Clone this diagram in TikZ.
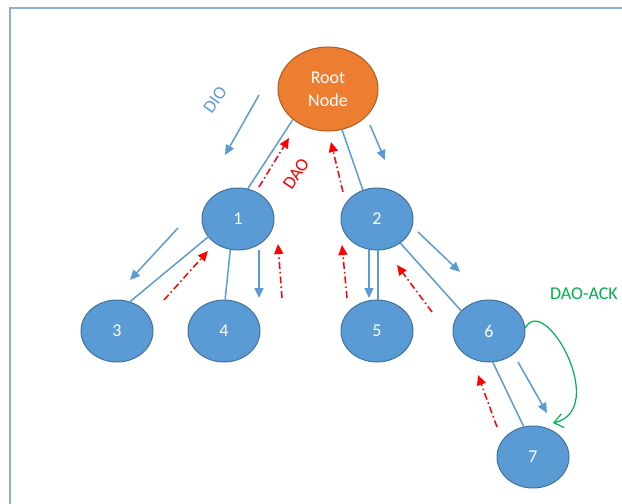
\documentclass[tikz,border=0pt]{standalone}
\usepackage{fontspec}
\setmainfont{Carlito}
\usetikzlibrary{shapes.geometric,arrows.meta}
\definecolor{nodeblue}{HTML}{5B9BD5}
\definecolor{nodeedge}{HTML}{41719C}
\definecolor{rootorange}{HTML}{ED7D31}
\definecolor{rootedge}{HTML}{AE5A21}
\definecolor{ackgreen}{HTML}{00B050}
\definecolor{framecol}{RGB}{140,175,210}

\begin{document}
\begin{tikzpicture}[x=0.5pt, y=-0.5pt, font=\fontsize{9}{11.5}\selectfont,
    main/.style = {draw=nodeedge, fill=nodeblue, ellipse, text=white, line width=0.5pt, minimum width=36pt, minimum height=31pt, inner sep=0pt},
    rootnode/.style = {draw=rootedge, fill=rootorange, ellipse, text=white, line width=0.5pt, minimum width=50pt, minimum height=42pt, inner sep=0pt, align=center},
    link/.style = {draw=nodeblue, line width=0.75pt},
    dio/.style = {draw=nodeblue, line width=0.75pt, -{Triangle[length=5pt, width=4.5pt]}},
    dao/.style = {draw=red, line width=0.75pt, dash pattern=on 3.5pt off 1.5pt on 0.8pt off 1.5pt, -{Triangle[length=5pt, width=4.5pt]}},
    ack/.style = {draw=ackgreen, line width=0.6pt, -{Straight Barb[length=4.5pt, width=7pt]}}]
    \useasboundingbox (0,0) rectangle (622,504);
    % frame
    \draw[framecol, line width=0.75pt] (10,504) -- (10,8) -- (622,8);
    % nodes
    \node[rootnode] (root) at (328,89) {Root\\Node};
    \node[main] (n1) at (238,219) {1};
    \node[main] (n2) at (377,219) {2};
    \node[main] (n3) at (117,331) {3};
    \node[main] (n4) at (224,331) {4};
    \node[main] (n5) at (377,331) {5};
    \node[main] (n6) at (489,331) {6};
    \node[main] (n7) at (533,457) {7};
    % tree links
    \draw[link] (root.221) -- (n1.72);
    \draw[link] (root.289) -- (n2.116);
    \draw[link] (n1.211) -- (n3.66);
    \draw[link] (n1.256) -- (n4.88);
    \draw[link] (n2.272) -- (n5.88);
    \draw[link] (n2.314) -- (n6.144);
    \draw[link] (n6.277) -- (n7.107);
    % DIO arrows
    \coordinate (dioA1) at (259,95);  \coordinate (dioB1) at (225,155);
    \coordinate (dioA2) at (370,125); \coordinate (dioB2) at (385,160);
    \coordinate (dioA3) at (178,228); \coordinate (dioB3) at (130,280);
    \coordinate (dioA4) at (259,250); \coordinate (dioB4) at (259,298);
    \coordinate (dioA5) at (369,250); \coordinate (dioB5) at (369,298);
    \coordinate (dioA6) at (418,232); \coordinate (dioB6) at (460,272);
    \coordinate (dioA7) at (518,362); \coordinate (dioB7) at (547,413);
    \draw[dio] (dioA1) -- (dioB1);
    \draw[dio] (dioA2) -- (dioB2);
    \draw[dio] (dioA3) -- (dioB3);
    \draw[dio] (dioA4) -- (dioB4);
    \draw[dio] (dioA5) -- (dioB5);
    \draw[dio] (dioA6) -- (dioB6);
    \draw[dio] (dioA7) -- (dioB7);
    % DAO arrows
    \coordinate (daoA1) at (259,187); \coordinate (daoB1) at (289,138);
    \coordinate (daoA2) at (343,192); \coordinate (daoB2) at (331,142);
    \coordinate (daoA3) at (164,300); \coordinate (daoB3) at (208,251);
    \coordinate (daoA4) at (282,298); \coordinate (daoB4) at (278,244);
    \coordinate (daoA5) at (347,298); \coordinate (daoB5) at (342,245);
    \coordinate (daoA6) at (432,312); \coordinate (daoB6) at (397,265);
    \coordinate (daoA7) at (497,427); \coordinate (daoB7) at (478,375);
    \draw[dao] (daoA1) -- (daoB1);
    \draw[dao] (daoA2) -- (daoB2);
    \draw[dao] (daoA3) -- (daoB3);
    \draw[dao] (daoA4) -- (daoB4);
    \draw[dao] (daoA5) -- (daoB5);
    \draw[dao] (daoA6) -- (daoB6);
    \draw[dao] (daoA7) -- (daoB7);
    % labels
    \node[text=nodeblue, rotate=55, inner sep=0pt] (diolabel) at (215,100) {DIO};
    \node[text=red, rotate=57, inner sep=0pt] (daolabel) at (296,174) {DAO};
    \node[text=ackgreen] (acklabel) at (584,294) {DAO-ACK};
    % DAO-ACK loop
    \coordinate (ackend) at (553,423);
    \draw[ack] (n6.5) .. controls (545,292) and (610,410) .. (ackend);
\end{tikzpicture}
\end{document}
